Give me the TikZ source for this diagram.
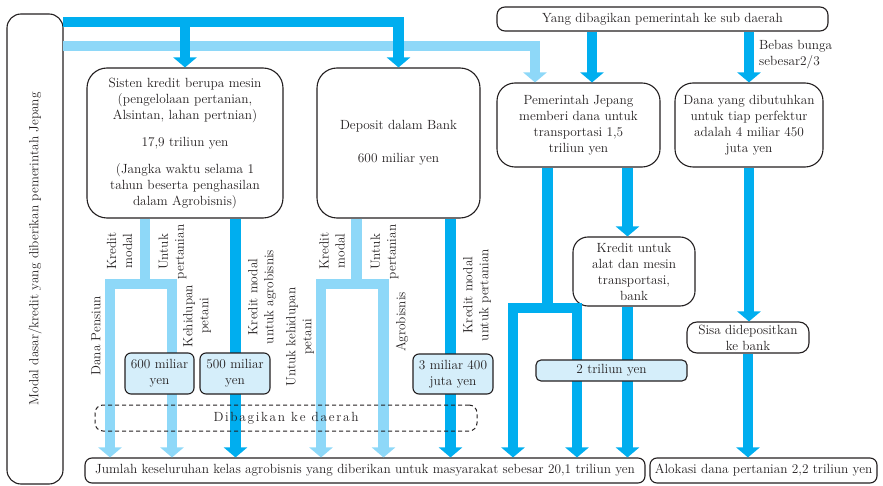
\documentclass[tikz,border=0pt]{standalone}
\usepackage{fontspec}
\usetikzlibrary{arrows.meta,calc}
\definecolor{dk}{HTML}{00AEEF}
\definecolor{lt}{HTML}{8ED8F8}
\definecolor{bxf}{HTML}{D5EEFA}
\definecolor{txt}{HTML}{231F20}
\newcommand\lsp{\kern1.7pt}
\tikzset{
  >={Triangle[width=23pt,length=10pt]},
  fnt/.style={font=\fontsize{13.3}{16}\selectfont, text=txt},
  bigbox/.style={fnt, draw=txt, line width=1.1pt, rounded corners=20pt, align=center, inner sep=0pt},
  smallbox/.style={fnt, draw=txt, line width=1.1pt, fill=bxf, rounded corners=6pt, align=center, inner sep=0pt},
  dkbar/.style={draw=dk, line width=10.5pt, line join=miter},
  ltbar/.style={draw=lt, line width=10.5pt, line join=miter},
  rlabel/.style={fnt, rotate=90, align=center, inner sep=0pt},
}
\begin{document}
\begin{tikzpicture}[x=1pt,y=-1pt]
\useasboundingbox (0,0) rectangle (883,486);

% boxes
\node[bigbox, rounded corners=14pt, rotate=90, minimum width=470pt, minimum height=56pt] (left) at (35,249) {Modal dasar/kredit yang diberikan pemerintah Jepang};
\node[bigbox, minimum width=196pt, minimum height=150pt] (sisten) at (185,143)
 {Sisten kredit berupa mesin\\(pengelolaan pertanian,\\Alsintan, lahan pertnian)\\[11pt]17,9 triliun yen\\[11pt](Jangka waktu selama 1\\tahun beserta penghasilan\\dalam Agrobisnis)};
\node[bigbox, minimum width=163pt, minimum height=150pt] (deposit) at (398.5,143)
 {Deposit dalam Bank\\[17pt]600 miliar yen};
\node[bigbox, rounded corners=8pt, minimum width=331pt, minimum height=24pt] (yang) at (662.5,19)
 {Yang dibagikan pemerintah ke sub daerah};
\node[bigbox, rounded corners=18pt, minimum width=163pt, minimum height=84pt] (pem) at (578.5,125)
 {Pemerintah Jepang\\memberi dana untuk\\transportasi 1,5\\triliun yen};
\node[bigbox, rounded corners=18pt, minimum width=148pt, minimum height=84pt] (dana) at (749,125)
 {Dana yang dibutuhkan\\untuk tiap perfektur\\adalah 4 miliar 450\\juta yen};
\node[bigbox, rounded corners=15pt, minimum width=122pt, minimum height=69pt] (kredit) at (634,271.5)
 {Kredit untuk\\alat dan mesin\\transportasi,\\bank};
\node[bigbox, rounded corners=10pt, minimum width=122pt, minimum height=31pt] (sisa) at (748,337.5)
 {Sisa didepositkan\\ke bank};
\node[bigbox, rounded corners=7pt, minimum width=560pt, minimum height=25pt] (jumlah) at (365,470.5)
 {Jumlah keseluruhan kelas agrobisnis yang diberikan untuk masyarakat sebesar 20,1 triliun yen};
\node[bigbox, rounded corners=7pt, minimum width=227pt, minimum height=25pt] (alokasi) at (763.5,470.5)
 {Alokasi dana pertanian 2,2 triliun yen};

% coordinates
\coordinate (tdL) at (63,22);
\coordinate (tlL) at (63,46);
\coordinate (pa) at ($(pem.north)+(13.5,0)$);
\coordinate (pl) at ($(pem.north)+(-43.5,0)$);
\coordinate (ka) at ($(kredit.north)+(-6.5,0)$);
\coordinate (pj) at (547.5,308);
\coordinate (pL) at (513,308);
\coordinate (pR) at (577,308);
\coordinate (sj) at (145,284);
\coordinate (sL) at (110,284);
\coordinate (sR) at (172,284);
\coordinate (sd) at (235.5,300);
\coordinate (dj) at (356.5,284);
\coordinate (dL) at (321,284);
\coordinate (dR) at (383.5,284);
\coordinate (dd) at (450.5,300);

% light bars
\draw[ltbar,->] (tlL) -| (pl);
\draw[ltbar] (sisten.south -| sj) -- (sj);
\draw[ltbar,<->] (jumlah.north -| sL) -- (sL) -- (sR) -- (jumlah.north -| sR);
\draw[ltbar] (deposit.south -| dj) -- (dj);
\draw[ltbar,<->] (jumlah.north -| dL) -- (dL) -- (dR) -- (jumlah.north -| dR);

% dark bars
\draw[dkbar,->] (tdL) -| (deposit.north);
\draw[dkbar,->] (sisten.north |- tdL) -- (sisten.north);
\draw[dkbar,->] (sisten.south -| sd) -- (jumlah.north -| sd);
\draw[dkbar,->] (deposit.south -| dd) -- (jumlah.north -| dd);
\draw[dkbar,->] (yang.south -| pa) -- (pa);
\draw[dkbar,->] (yang.south -| dana.north) -- (dana.north);
\draw[dkbar,->] (dana.south) -- (sisa.north -| dana.south);
\draw[dkbar,->] (sisa.south) -- (alokasi.north -| sisa.south);
\draw[dkbar,->] (pem.south -| ka) -- (ka);
\draw[dkbar,->] (kredit.south -| ka) -- (jumlah.north -| ka);
\draw[dkbar] (pem.south -| pj) -- (pj);
\draw[dkbar,<->] (jumlah.north -| pL) -- (pL) -- (pR) -- (jumlah.north -| pR);

% dashed region, drawn over the bars
\node[fnt, draw=txt, line width=1pt, dash pattern=on 4pt off 3pt, rounded corners=8pt, minimum width=382pt, minimum height=26pt, inner sep=0pt] (dibagi) at (286,418)
 {D\lsp i\lsp b\lsp a\lsp g\lsp i\lsp k\lsp a\lsp n\lsp\ k\lsp e\lsp\ d\lsp a\lsp e\lsp r\lsp a\lsp h};

% small filled boxes
\node[smallbox, minimum width=69pt, minimum height=41pt] (b600) at (159.5,373.5) {600 miliar\\yen};
\node[smallbox, minimum width=70pt, minimum height=41pt] (b500) at (235,373.5) {500 miliar\\yen};
\node[smallbox, minimum width=80pt, minimum height=40pt] (b3m) at (453,374) {3 miliar 400\\juta yen};
\node[smallbox, rounded corners=5pt, minimum width=151pt, minimum height=21pt] (b2t) at (611.5,370.5) {2 triliun yen};

% labels
\node[rlabel] (l1) at (119.5,251) {Kredit\\modal};
\node[rlabel] (l2) at (172.5,252) {Untuk\\pertanian};
\node[rlabel] (l3) at (96,336) {Dana Pensiun};
\node[rlabel] (l4) at (197,316) {Kehidupan\\petani};
\node[rlabel] (l5) at (262,297) {Kredit modal\\untuk agrobisnis};
\node[rlabel] (l6) at (300,337) {Untuk kehidupan\\petani};
\node[rlabel] (l7) at (332,251) {Kredit\\modal};
\node[rlabel] (l8) at (384.5,252) {Untuk\\pertanian};
\node[rlabel] (l9) at (402,322) {Agrobisnis};
\node[rlabel] (l10) at (477,295) {Kredit modal\\untuk pertanian};
\node[fnt, anchor=west, align=left, inner sep=0pt] (bebas) at (759,54.5) {Bebas bunga\\sebesar2/3};
\end{tikzpicture}
\end{document}
